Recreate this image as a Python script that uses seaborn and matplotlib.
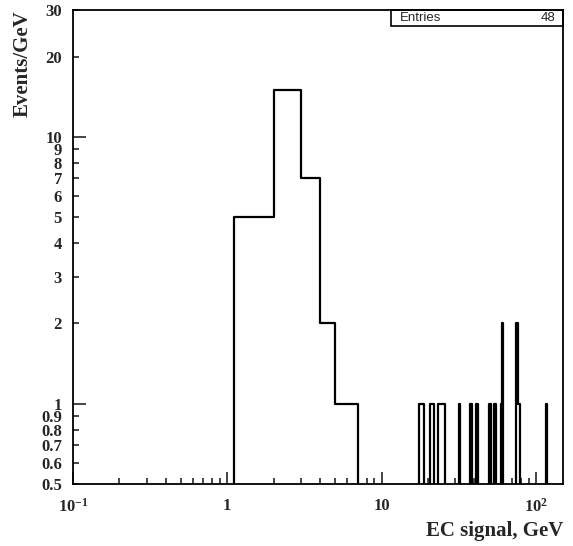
import numpy as np
import pandas as pd
import matplotlib
matplotlib.use("Agg")
import matplotlib.pyplot as plt
import seaborn as sns
from matplotlib.ticker import FixedLocator, FuncFormatter, NullFormatter
from matplotlib.patches import Rectangle

# ---- data ----
bin_left = [1.1, 2, 3, 4, 5, 6, 17.6, 20.7, 23.4, 31.6, 37.2, 40.8, 49.9, 53.4,
            59.6, 60.1, 74.9, 76.4, 117.0]
bin_right = [2, 3, 4, 5, 6, 7, 18.8, 21.8, 25.6, 32.4, 38.3, 41.9, 51.2, 54.9,
             60.1, 61.7, 76.4, 79.5, 118.5]
events_per_gev = [5, 15, 7, 2, 1, 1, 1, 1, 1, 1, 1, 1, 1, 1,
                  1, 2, 2, 1, 1]
x_range = [0.1, 150]
y_range = [0.5, 30]
x_major = [0.1, 1, 10, 100]
x_major_labels = [r"$\mathbf{10^{-1}}$", "1", "10", r"$\mathbf{10^{2}}$"]
y_major = [1, 10]
y_minor = [0.5, 0.6, 0.7, 0.8, 0.9, 2, 3, 4, 5, 6, 7, 8, 9, 20, 30]
entries = 48

sns.set_style("ticks")
plt.rcParams["font.family"] = ["Liberation Serif", "DejaVu Serif"]
plt.rcParams["mathtext.fontset"] = "custom"
plt.rcParams["mathtext.rm"] = "Liberation Serif:bold"
plt.rcParams["mathtext.bf"] = "Liberation Serif:bold"
plt.rcParams["mathtext.it"] = "Liberation Serif:bold"

edges = sorted(set(bin_left + bin_right + x_range))
centers = [(l + r) / 2 for l, r in zip(bin_left, bin_right)]
df = pd.DataFrame({"signal": centers, "w": events_per_gev})

fig = plt.figure(figsize=(5.73, 5.46), dpi=100)
ax = fig.add_axes([0.1274, 0.1136, 0.8551, 0.8681])

sns.histplot(data=df, x="signal", weights="w", bins=edges, element="step",
             fill=False, color="black", linewidth=1.6, ax=ax)

ax.set_xscale("log")
ax.set_yscale("log")
ax.set_xlim(*x_range)
ax.set_ylim(*y_range)

# x ticks
ax.xaxis.set_major_locator(FixedLocator(x_major))
ax.set_xticklabels(x_major_labels)
minor_x = [m * d for d in [0.1, 1, 10, 100] for m in range(2, 10) if x_range[0] < m * d < x_range[1]]
ax.xaxis.set_minor_locator(FixedLocator(minor_x))
ax.xaxis.set_minor_formatter(NullFormatter())

# y ticks
ax.yaxis.set_major_locator(FixedLocator(y_major))
ax.yaxis.set_major_formatter(FuncFormatter(lambda v, p: f"{v:g}"))
ax.yaxis.set_minor_locator(FixedLocator(y_minor))
ax.yaxis.set_minor_formatter(FuncFormatter(lambda v, p: f"{v:g}"))

ax.tick_params(which="both", direction="in", top=False, right=False,
               width=1.2, labelsize=12)
ax.tick_params(axis="y", which="both", pad=8)
ax.tick_params(axis="x", which="both", pad=10)
ax.tick_params(which="major", length=9)
ax.tick_params(which="minor", length=4.5)
for lab in ax.get_xticklabels() + ax.get_yticklabels(which="both"):
    lab.set_fontweight("bold")

for s in ax.spines.values():
    s.set_linewidth(1.3)
    s.set_color("black")

ax.set_xlabel("EC signal, GeV", loc="right", fontsize=15, fontweight="bold")
ax.xaxis.set_label_coords(1.0, -0.078)
ax.set_ylabel("Events/GeV", loc="top", fontsize=15, fontweight="bold")
ax.yaxis.set_label_coords(-0.082, 1.0)

# stats box
ax.add_patch(Rectangle((0.649, 0.966), 0.351, 0.034, transform=ax.transAxes,
                       fill=False, edgecolor="black", linewidth=1.2, clip_on=False))
ax.text(0.668, 0.983, "Entries", transform=ax.transAxes, ha="left", va="center",
        fontsize=9.5, family=["Liberation Sans", "DejaVu Sans"])
ax.text(0.985, 0.983, f"{entries}", transform=ax.transAxes, ha="right", va="center",
        fontsize=9.5, family=["Liberation Sans", "DejaVu Sans"])

fig.savefig("out.png", dpi=100)
